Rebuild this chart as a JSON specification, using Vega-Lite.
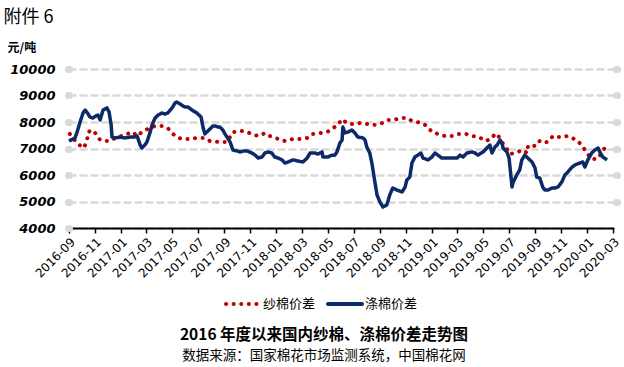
{
  "$schema": "https://vega.github.io/schema/vega-lite/v6.json",
  "width": 544,
  "height": 159,
  "autosize": {"type": "none"},
  "padding": {"left": 69, "top": 69, "right": 11, "bottom": 139},
  "background": "white",
  "config": {"view": {"stroke": null}},
  "title": {
    "text": "2016 年度以来国内纱棉、涤棉价差走势图",
    "subtitle": "数据来源：国家棉花市场监测系统，中国棉花网",
    "orient": "bottom",
    "anchor": "middle",
    "frame": "group",
    "font": "Noto Sans CJK SC",
    "fontSize": 15.5,
    "fontWeight": "bold",
    "color": "#000000",
    "subtitleFont": "Noto Sans CJK SC",
    "subtitleFontSize": 13.5,
    "subtitleColor": "#000000",
    "subtitlePadding": 5,
    "offset": 16,
    "dx": -17
  },
  "datasets": {
    "yarn": [
      {"date": "2016/09/03", "series": "纱棉价差", "value": 7550},
      {"date": "2016/09/22", "series": "纱棉价差", "value": 7170},
      {"date": "2016/10/06", "series": "纱棉价差", "value": 7020},
      {"date": "2016/10/13", "series": "纱棉价差", "value": 7280},
      {"date": "2016/10/16", "series": "纱棉价差", "value": 7620},
      {"date": "2016/10/25", "series": "纱棉价差", "value": 7700},
      {"date": "2016/11/06", "series": "纱棉价差", "value": 7510},
      {"date": "2016/11/13", "series": "纱棉价差", "value": 7320},
      {"date": "2016/12/02", "series": "纱棉价差", "value": 7280},
      {"date": "2016/12/25", "series": "纱棉价差", "value": 7430},
      {"date": "2017/01/15", "series": "纱棉价差", "value": 7550},
      {"date": "2017/01/29", "series": "纱棉价差", "value": 7620},
      {"date": "2017/02/08", "series": "纱棉价差", "value": 7470},
      {"date": "2017/02/19", "series": "纱棉价差", "value": 7620},
      {"date": "2017/03/05", "series": "纱棉价差", "value": 7740},
      {"date": "2017/03/22", "series": "纱棉价差", "value": 7850},
      {"date": "2017/04/07", "series": "纱棉价差", "value": 7850},
      {"date": "2017/04/21", "series": "纱棉价差", "value": 7770},
      {"date": "2017/05/03", "series": "纱棉价差", "value": 7550},
      {"date": "2017/05/15", "series": "纱棉价差", "value": 7400},
      {"date": "2017/05/27", "series": "纱棉价差", "value": 7360},
      {"date": "2017/06/12", "series": "纱棉价差", "value": 7360},
      {"date": "2017/06/28", "series": "纱棉价差", "value": 7400},
      {"date": "2017/07/13", "series": "纱棉价差", "value": 7400},
      {"date": "2017/07/29", "series": "纱棉价差", "value": 7280},
      {"date": "2017/08/17", "series": "纱棉价差", "value": 7250},
      {"date": "2017/09/07", "series": "纱棉价差", "value": 7250},
      {"date": "2017/09/21", "series": "纱棉价差", "value": 7620},
      {"date": "2017/10/12", "series": "纱棉价差", "value": 7660},
      {"date": "2017/10/24", "series": "纱棉价差", "value": 7620},
      {"date": "2017/11/04", "series": "纱棉价差", "value": 7550},
      {"date": "2017/11/19", "series": "纱棉价差", "value": 7470},
      {"date": "2017/12/05", "series": "纱棉价差", "value": 7580},
      {"date": "2017/12/17", "series": "纱棉价差", "value": 7470},
      {"date": "2018/01/05", "series": "纱棉价差", "value": 7360},
      {"date": "2018/01/21", "series": "纱棉价差", "value": 7280},
      {"date": "2018/02/09", "series": "纱棉价差", "value": 7360},
      {"date": "2018/02/25", "series": "纱棉价差", "value": 7360},
      {"date": "2018/03/16", "series": "纱棉价差", "value": 7400},
      {"date": "2018/03/28", "series": "纱棉价差", "value": 7550},
      {"date": "2018/04/13", "series": "纱棉价差", "value": 7580},
      {"date": "2018/04/30", "series": "纱棉价差", "value": 7620},
      {"date": "2018/05/14", "series": "纱棉价差", "value": 7770},
      {"date": "2018/05/25", "series": "纱棉价差", "value": 7890},
      {"date": "2018/06/04", "series": "纱棉价差", "value": 8110},
      {"date": "2018/06/15", "series": "纱棉价差", "value": 7960},
      {"date": "2018/06/30", "series": "纱棉价差", "value": 7920},
      {"date": "2018/07/16", "series": "纱棉价差", "value": 7960},
      {"date": "2018/08/04", "series": "纱棉价差", "value": 7920},
      {"date": "2018/08/20", "series": "纱棉价差", "value": 7890},
      {"date": "2018/09/06", "series": "纱棉价差", "value": 7960},
      {"date": "2018/09/20", "series": "纱棉价差", "value": 8080},
      {"date": "2018/10/01", "series": "纱棉价差", "value": 8080},
      {"date": "2018/10/23", "series": "纱棉价差", "value": 8150},
      {"date": "2018/11/03", "series": "纱棉价差", "value": 8150},
      {"date": "2018/11/15", "series": "纱棉价差", "value": 8040},
      {"date": "2018/11/27", "series": "纱棉价差", "value": 8000},
      {"date": "2018/12/08", "series": "纱棉价差", "value": 7960},
      {"date": "2018/12/20", "series": "纱棉价差", "value": 7850},
      {"date": "2019/01/01", "series": "纱棉价差", "value": 7620},
      {"date": "2019/01/15", "series": "纱棉价差", "value": 7550},
      {"date": "2019/01/31", "series": "纱棉价差", "value": 7470},
      {"date": "2019/02/19", "series": "纱棉价差", "value": 7470},
      {"date": "2019/03/03", "series": "纱棉价差", "value": 7550},
      {"date": "2019/03/22", "series": "纱棉价差", "value": 7550},
      {"date": "2019/04/07", "series": "纱棉价差", "value": 7470},
      {"date": "2019/04/21", "series": "纱棉价差", "value": 7430},
      {"date": "2019/05/08", "series": "纱棉价差", "value": 7280},
      {"date": "2019/05/22", "series": "纱棉价差", "value": 7400},
      {"date": "2019/05/29", "series": "纱棉价差", "value": 7550},
      {"date": "2019/06/03", "series": "纱棉价差", "value": 7550},
      {"date": "2019/06/14", "series": "纱棉价差", "value": 7250},
      {"date": "2019/06/26", "series": "纱棉价差", "value": 6980},
      {"date": "2019/07/03", "series": "纱棉价差", "value": 6790},
      {"date": "2019/07/15", "series": "纱棉价差", "value": 6830},
      {"date": "2019/07/26", "series": "纱棉价差", "value": 6900},
      {"date": "2019/08/03", "series": "纱棉价差", "value": 6940},
      {"date": "2019/08/12", "series": "纱棉价差", "value": 6830},
      {"date": "2019/08/14", "series": "纱棉价差", "value": 7060},
      {"date": "2019/08/26", "series": "纱棉价差", "value": 7020},
      {"date": "2019/09/04", "series": "纱棉价差", "value": 7250},
      {"date": "2019/09/11", "series": "纱棉价差", "value": 7280},
      {"date": "2019/09/18", "series": "纱棉价差", "value": 7210},
      {"date": "2019/09/30", "series": "纱棉价差", "value": 7250},
      {"date": "2019/10/12", "series": "纱棉价差", "value": 7470},
      {"date": "2019/10/24", "series": "纱棉价差", "value": 7430},
      {"date": "2019/11/04", "series": "纱棉价差", "value": 7430},
      {"date": "2019/11/14", "series": "纱棉价差", "value": 7470},
      {"date": "2019/11/26", "series": "纱棉价差", "value": 7400},
      {"date": "2019/12/10", "series": "纱棉价差", "value": 7280},
      {"date": "2019/12/21", "series": "纱棉价差", "value": 7060},
      {"date": "2019/12/31", "series": "纱棉价差", "value": 6830},
      {"date": "2020/01/11", "series": "纱棉价差", "value": 6600},
      {"date": "2020/01/23", "series": "纱棉价差", "value": 6600},
      {"date": "2020/02/04", "series": "纱棉价差", "value": 6830},
      {"date": "2020/02/13", "series": "纱棉价差", "value": 7090}
    ],
    "tc": [
      {"date": "2016/09/01", "series": "涤棉价差", "value": 7280},
      {"date": "2016/09/15", "series": "涤棉价差", "value": 7400},
      {"date": "2016/09/20", "series": "涤棉价差", "value": 7620},
      {"date": "2016/09/27", "series": "涤棉价差", "value": 8000},
      {"date": "2016/10/04", "series": "涤棉价差", "value": 8340},
      {"date": "2016/10/09", "series": "涤棉价差", "value": 8450},
      {"date": "2016/10/16", "series": "涤棉价差", "value": 8300},
      {"date": "2016/10/20", "series": "涤棉价差", "value": 8190},
      {"date": "2016/10/27", "series": "涤棉价差", "value": 8150},
      {"date": "2016/11/03", "series": "涤棉价差", "value": 8230},
      {"date": "2016/11/08", "series": "涤棉价差", "value": 8260},
      {"date": "2016/11/13", "series": "涤棉价差", "value": 8080},
      {"date": "2016/11/20", "series": "涤棉价差", "value": 8450},
      {"date": "2016/11/29", "series": "涤棉价差", "value": 8530},
      {"date": "2016/12/04", "series": "涤棉价差", "value": 8380},
      {"date": "2016/12/09", "series": "涤棉价差", "value": 7890},
      {"date": "2016/12/11", "series": "涤棉价差", "value": 7430},
      {"date": "2016/12/18", "series": "涤棉价差", "value": 7400},
      {"date": "2016/12/30", "series": "涤棉价差", "value": 7430},
      {"date": "2017/01/10", "series": "涤棉价差", "value": 7400},
      {"date": "2017/01/22", "series": "涤棉价差", "value": 7430},
      {"date": "2017/02/01", "series": "涤棉价差", "value": 7430},
      {"date": "2017/02/08", "series": "涤棉价差", "value": 7470},
      {"date": "2017/02/15", "series": "涤棉价差", "value": 7130},
      {"date": "2017/02/19", "series": "涤棉价差", "value": 7020},
      {"date": "2017/02/26", "series": "涤棉价差", "value": 7130},
      {"date": "2017/03/03", "series": "涤棉价差", "value": 7250},
      {"date": "2017/03/10", "series": "涤棉价差", "value": 7590},
      {"date": "2017/03/15", "series": "涤棉价差", "value": 7890},
      {"date": "2017/03/22", "series": "涤棉价差", "value": 8150},
      {"date": "2017/03/29", "series": "涤棉价差", "value": 8260},
      {"date": "2017/04/07", "series": "涤棉价差", "value": 8340},
      {"date": "2017/04/14", "series": "涤棉价差", "value": 8300},
      {"date": "2017/04/21", "series": "涤棉价差", "value": 8340},
      {"date": "2017/05/01", "series": "涤棉价差", "value": 8530},
      {"date": "2017/05/08", "series": "涤棉价差", "value": 8720},
      {"date": "2017/05/12", "series": "涤棉价差", "value": 8750},
      {"date": "2017/05/20", "series": "涤棉价差", "value": 8680},
      {"date": "2017/05/27", "series": "涤棉价差", "value": 8600},
      {"date": "2017/05/31", "series": "涤棉价差", "value": 8570},
      {"date": "2017/06/07", "series": "涤棉价差", "value": 8570},
      {"date": "2017/06/17", "series": "涤棉价差", "value": 8450},
      {"date": "2017/06/24", "series": "涤棉价差", "value": 8380},
      {"date": "2017/06/28", "series": "涤棉价差", "value": 8340},
      {"date": "2017/07/08", "series": "涤棉价差", "value": 8190},
      {"date": "2017/07/13", "series": "涤棉价差", "value": 7770},
      {"date": "2017/07/17", "series": "涤棉价差", "value": 7550},
      {"date": "2017/07/24", "series": "涤棉价差", "value": 7660},
      {"date": "2017/07/29", "series": "涤棉价差", "value": 7740},
      {"date": "2017/08/05", "series": "涤棉价差", "value": 7850},
      {"date": "2017/08/10", "series": "涤棉价差", "value": 7850},
      {"date": "2017/08/17", "series": "涤棉价差", "value": 7810},
      {"date": "2017/08/21", "series": "涤棉价差", "value": 7810},
      {"date": "2017/08/28", "series": "涤棉价差", "value": 7700},
      {"date": "2017/09/02", "series": "涤棉价差", "value": 7550},
      {"date": "2017/09/07", "series": "涤棉价差", "value": 7430},
      {"date": "2017/09/14", "series": "涤棉价差", "value": 7250},
      {"date": "2017/09/21", "series": "涤棉价差", "value": 6940},
      {"date": "2017/09/30", "series": "涤棉价差", "value": 6910},
      {"date": "2017/10/07", "series": "涤棉价差", "value": 6870},
      {"date": "2017/10/17", "series": "涤棉价差", "value": 6910},
      {"date": "2017/10/24", "series": "涤棉价差", "value": 6910},
      {"date": "2017/11/04", "series": "涤棉价差", "value": 6830},
      {"date": "2017/11/12", "series": "涤棉价差", "value": 6750},
      {"date": "2017/11/19", "series": "涤棉价差", "value": 6640},
      {"date": "2017/11/28", "series": "涤棉价差", "value": 6680},
      {"date": "2017/12/05", "series": "涤棉价差", "value": 6830},
      {"date": "2017/12/12", "series": "涤棉价差", "value": 6870},
      {"date": "2017/12/21", "series": "涤棉价差", "value": 6830},
      {"date": "2017/12/28", "series": "涤棉价差", "value": 6680},
      {"date": "2018/01/05", "series": "涤棉价差", "value": 6640},
      {"date": "2018/01/14", "series": "涤棉价差", "value": 6570},
      {"date": "2018/01/21", "series": "涤棉价差", "value": 6450},
      {"date": "2018/01/28", "series": "涤棉价差", "value": 6490},
      {"date": "2018/02/09", "series": "涤棉价差", "value": 6570},
      {"date": "2018/02/20", "series": "涤棉价差", "value": 6530},
      {"date": "2018/03/04", "series": "涤棉价差", "value": 6490},
      {"date": "2018/03/14", "series": "涤棉价差", "value": 6640},
      {"date": "2018/03/21", "series": "涤棉价差", "value": 6830},
      {"date": "2018/04/01", "series": "涤棉价差", "value": 6830},
      {"date": "2018/04/08", "series": "涤棉价差", "value": 6790},
      {"date": "2018/04/18", "series": "涤棉价差", "value": 6870},
      {"date": "2018/04/20", "series": "涤棉价差", "value": 6680},
      {"date": "2018/05/02", "series": "涤棉价差", "value": 6680},
      {"date": "2018/05/11", "series": "涤棉价差", "value": 6750},
      {"date": "2018/05/18", "series": "涤棉价差", "value": 6750},
      {"date": "2018/05/23", "series": "涤棉价差", "value": 6870},
      {"date": "2018/05/30", "series": "涤棉价差", "value": 7210},
      {"date": "2018/06/04", "series": "涤棉价差", "value": 7320},
      {"date": "2018/06/06", "series": "涤棉价差", "value": 7810},
      {"date": "2018/06/11", "series": "涤棉价差", "value": 7590},
      {"date": "2018/06/18", "series": "涤棉价差", "value": 7620},
      {"date": "2018/06/27", "series": "涤棉价差", "value": 7700},
      {"date": "2018/07/04", "series": "涤棉价差", "value": 7590},
      {"date": "2018/07/11", "series": "涤棉价差", "value": 7430},
      {"date": "2018/07/23", "series": "涤棉价差", "value": 7400},
      {"date": "2018/07/28", "series": "涤棉价差", "value": 7320},
      {"date": "2018/08/01", "series": "涤棉价差", "value": 7060},
      {"date": "2018/08/08", "series": "涤棉价差", "value": 6830},
      {"date": "2018/08/13", "series": "涤棉价差", "value": 6450},
      {"date": "2018/08/20", "series": "涤棉价差", "value": 5740},
      {"date": "2018/08/25", "series": "涤棉价差", "value": 5250},
      {"date": "2018/09/01", "series": "涤棉价差", "value": 4980},
      {"date": "2018/09/08", "series": "涤棉价差", "value": 4790},
      {"date": "2018/09/17", "series": "涤棉价差", "value": 4870},
      {"date": "2018/09/24", "series": "涤棉价差", "value": 5250},
      {"date": "2018/10/01", "series": "涤棉价差", "value": 5510},
      {"date": "2018/10/11", "series": "涤棉价差", "value": 5430},
      {"date": "2018/10/23", "series": "涤棉价差", "value": 5360},
      {"date": "2018/10/30", "series": "涤棉价差", "value": 5550},
      {"date": "2018/11/03", "series": "涤棉价差", "value": 5810},
      {"date": "2018/11/10", "series": "涤棉价差", "value": 5920},
      {"date": "2018/11/15", "series": "涤棉价差", "value": 6450},
      {"date": "2018/11/22", "series": "涤棉价差", "value": 6680},
      {"date": "2018/11/29", "series": "涤棉价差", "value": 6750},
      {"date": "2018/12/06", "series": "涤棉价差", "value": 6830},
      {"date": "2018/12/11", "series": "涤棉价差", "value": 6640},
      {"date": "2018/12/23", "series": "涤棉价差", "value": 6570},
      {"date": "2019/01/01", "series": "涤棉价差", "value": 6680},
      {"date": "2019/01/08", "series": "涤棉价差", "value": 6830},
      {"date": "2019/01/15", "series": "涤棉价差", "value": 6750},
      {"date": "2019/01/24", "series": "涤棉价差", "value": 6640},
      {"date": "2019/02/12", "series": "涤棉价差", "value": 6640},
      {"date": "2019/03/01", "series": "涤棉价差", "value": 6640},
      {"date": "2019/03/08", "series": "涤棉价差", "value": 6750},
      {"date": "2019/03/15", "series": "涤棉价差", "value": 6680},
      {"date": "2019/03/24", "series": "涤棉价差", "value": 6830},
      {"date": "2019/04/05", "series": "涤棉价差", "value": 6870},
      {"date": "2019/04/12", "series": "涤棉价差", "value": 6830},
      {"date": "2019/04/19", "series": "涤棉价差", "value": 6750},
      {"date": "2019/05/01", "series": "涤棉价差", "value": 6870},
      {"date": "2019/05/10", "series": "涤棉价差", "value": 7020},
      {"date": "2019/05/17", "series": "涤棉价差", "value": 7130},
      {"date": "2019/05/22", "series": "涤棉价差", "value": 6830},
      {"date": "2019/05/29", "series": "涤棉价差", "value": 7060},
      {"date": "2019/06/03", "series": "涤棉价差", "value": 7130},
      {"date": "2019/06/10", "series": "涤棉价差", "value": 7320},
      {"date": "2019/06/14", "series": "涤棉价差", "value": 7210},
      {"date": "2019/06/17", "series": "涤棉价差", "value": 7020},
      {"date": "2019/06/26", "series": "涤棉价差", "value": 6870},
      {"date": "2019/07/01", "series": "涤棉价差", "value": 6640},
      {"date": "2019/07/08", "series": "涤棉价差", "value": 5550},
      {"date": "2019/07/10", "series": "涤棉价差", "value": 5700},
      {"date": "2019/07/19", "series": "涤棉价差", "value": 6000},
      {"date": "2019/07/26", "series": "涤棉价差", "value": 6190},
      {"date": "2019/07/31", "series": "涤棉价差", "value": 6570},
      {"date": "2019/08/07", "series": "涤棉价差", "value": 6750},
      {"date": "2019/08/14", "series": "涤棉价差", "value": 6640},
      {"date": "2019/08/24", "series": "涤棉价差", "value": 6490},
      {"date": "2019/08/31", "series": "涤棉价差", "value": 6260},
      {"date": "2019/09/04", "series": "涤棉价差", "value": 5920},
      {"date": "2019/09/11", "series": "涤棉价差", "value": 5890},
      {"date": "2019/09/18", "series": "涤棉价差", "value": 5550},
      {"date": "2019/09/23", "series": "涤棉价差", "value": 5430},
      {"date": "2019/09/30", "series": "涤棉价差", "value": 5430},
      {"date": "2019/10/10", "series": "涤棉价差", "value": 5510},
      {"date": "2019/10/17", "series": "涤棉价差", "value": 5510},
      {"date": "2019/10/24", "series": "涤棉价差", "value": 5550},
      {"date": "2019/11/02", "series": "涤棉价差", "value": 5740},
      {"date": "2019/11/09", "series": "涤棉价差", "value": 6000},
      {"date": "2019/11/16", "series": "涤棉价差", "value": 6110},
      {"date": "2019/11/26", "series": "涤棉价差", "value": 6300},
      {"date": "2019/12/03", "series": "涤棉价差", "value": 6380},
      {"date": "2019/12/14", "series": "涤棉价差", "value": 6450},
      {"date": "2019/12/21", "series": "涤棉价差", "value": 6490},
      {"date": "2019/12/26", "series": "涤棉价差", "value": 6300},
      {"date": "2020/01/02", "series": "涤棉价差", "value": 6570},
      {"date": "2020/01/11", "series": "涤棉价差", "value": 6830},
      {"date": "2020/01/18", "series": "涤棉价差", "value": 6940},
      {"date": "2020/01/26", "series": "涤棉价差", "value": 7020},
      {"date": "2020/01/30", "series": "涤棉价差", "value": 6870},
      {"date": "2020/02/06", "series": "涤棉价差", "value": 6680},
      {"date": "2020/02/16", "series": "涤棉价差", "value": 6570}
    ]
  },
  "resolve": {"axis": {"x": "independent", "y": "independent"}},
  "layer": [
    {
      "data": {"name": "yarn"},
      "mark": {"type": "line", "strokeWidth": 4, "strokeCap": "round", "strokeJoin": "round"},
      "encoding": {
        "x": {
          "field": "date",
          "type": "temporal",
          "scale": {"domain": [{"year": 2016, "month": 9, "date": 1}, {"year": 2020, "month": 3, "date": 1}]},
          "axis": {
            "orient": "bottom",
            "title": null,
            "format": "%Y-%m",
            "tickCount": {"interval": "month", "step": 2},
            "labelAngle": -45,
            "labelFont": "DejaVu Sans",
            "labelFontSize": 12,
            "labelColor": "#000000",
            "labelPadding": 3,
            "labelOverlap": false,
            "labelFlush": false,
            "grid": false,
            "domainColor": "#000000",
            "domainWidth": 2,
            "domainCap": "round",
            "tickColor": "#000000",
            "tickWidth": 1.5,
            "tickSize": 5
          }
        },
        "y": {
          "field": "value",
          "type": "quantitative",
          "scale": {"domain": [4000, 10000], "nice": false},
          "axis": {
            "orient": "left",
            "values": [4000, 5000, 6000, 7000, 8000, 9000, 10000],
            "format": "d",
            "title": "元/吨",
            "titleAngle": 0,
            "titleAlign": "left",
            "titleBaseline": "alphabetic",
            "titleX": -62,
            "titleY": -18,
            "titleFont": "Noto Sans CJK SC",
            "titleFontSize": 12,
            "titleFontWeight": "bold",
            "titleColor": "#000000",
            "labelFont": "DejaVu Sans",
            "labelFontSize": 13,
            "labelFontWeight": "bold",
            "labelFontStyle": "italic",
            "labelColor": "#000000",
            "labelPadding": 13,
            "domain": false,
            "ticks": true,
            "tickSize": 1,
            "tickWidth": 7,
            "tickCap": "round",
            "tickColor": "#d9d9d9",
            "grid": true,
            "gridColor": "#d9d9d9",
            "gridWidth": 2.5,
            "gridDash": [6, 5],
            "gridCap": "round"
          }
        },
        "color": {
          "field": "series",
          "type": "nominal",
          "scale": {"domain": ["纱棉价差", "涤棉价差"], "range": ["#c00000", "#0c2a68"]},
          "legend": {
            "orient": "none",
            "direction": "horizontal",
            "legendX": 155,
            "legendY": 216,
            "title": null,
            "symbolType": "stroke",
            "symbolSize": 1156,
            "symbolStrokeWidth": 4,
            "labelFont": "Noto Sans CJK SC",
            "labelFontSize": 13,
            "labelColor": "#000000",
            "labelOffset": 1,
            "columnPadding": 4,
            "encode": {"symbols": {"update": {"strokeCap": {"value": "round"}}}}
          }
        },
        "strokeDash": {
          "field": "series",
          "type": "nominal",
          "scale": {"domain": ["纱棉价差", "涤棉价差"], "range": [[0.1, 7.5], [1, 0]]},
          "legend": {
            "orient": "none",
            "direction": "horizontal",
            "legendX": 155,
            "legendY": 216,
            "title": null,
            "symbolType": "stroke",
            "symbolSize": 1156,
            "symbolStrokeWidth": 4,
            "labelFont": "Noto Sans CJK SC",
            "labelFontSize": 13,
            "labelColor": "#000000",
            "labelOffset": 1,
            "columnPadding": 4,
            "encode": {"symbols": {"update": {"strokeCap": {"value": "round"}}}}
          }
        }
      }
    },
    {
      "data": {"name": "tc"},
      "mark": {"type": "line", "strokeWidth": 3.5, "strokeJoin": "round"},
      "encoding": {
        "x": {
          "field": "date",
          "type": "temporal",
          "axis": {
            "orient": "top",
            "title": "附件 6",
            "titleFont": "Noto Sans CJK SC",
            "titleFontSize": 18,
            "titleFontWeight": "normal",
            "titleColor": "#000000",
            "titleAnchor": "start",
            "titleAlign": "left",
            "titleBaseline": "alphabetic",
            "titleX": -66,
            "titleY": -47,
            "labels": false,
            "ticks": false,
            "domain": false,
            "grid": false
          }
        },
        "y": {
          "field": "value",
          "type": "quantitative",
          "axis": {
            "orient": "right",
            "offset": 3,
            "values": [5000, 6000, 7000, 8000, 9000, 10000],
            "title": null,
            "labels": false,
            "domain": false,
            "grid": false,
            "ticks": true,
            "tickSize": 1,
            "tickWidth": 7,
            "tickCap": "round",
            "tickColor": "#d9d9d9"
          }
        },
        "color": {"field": "series", "type": "nominal"},
        "strokeDash": {"field": "series", "type": "nominal"}
      }
    }
  ]
}
